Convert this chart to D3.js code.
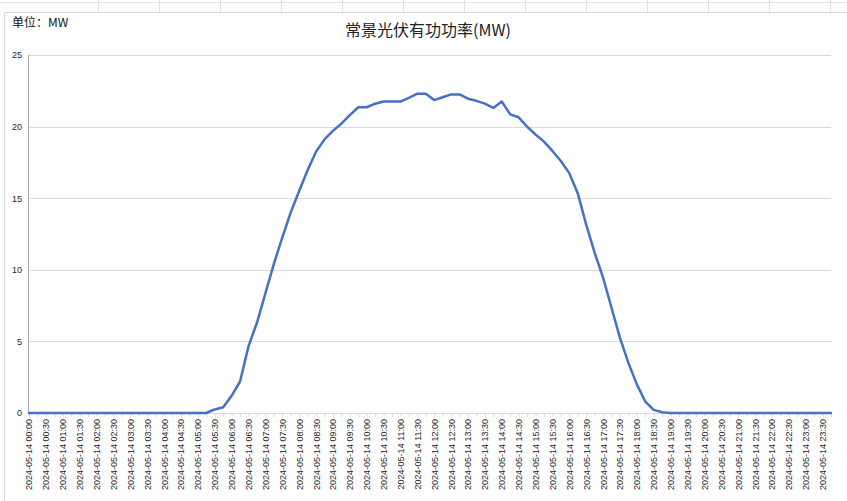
<!DOCTYPE html>
<html>
<head>
<meta charset="utf-8">
<script src="https://cdn.jsdelivr.net/npm/d3@7"></script>
<style>
  html, body { margin: 0; padding: 0; background: #fff; }
  svg { display: block; }
</style>
</head>
<body>
<svg id="chart" width="847" height="501"></svg>
<script>
// ---- data ----
const chartTitle = "常景光伏有功功率(MW)";
const unitLabel = "单位：MW";
const datePrefix = "2024-05-14";
const times = [
  "00:00","00:15","00:30","00:45","01:00","01:15","01:30","01:45",
  "02:00","02:15","02:30","02:45","03:00","03:15","03:30","03:45",
  "04:00","04:15","04:30","04:45","05:00","05:15","05:30","05:45",
  "06:00","06:15","06:30","06:45","07:00","07:15","07:30","07:45",
  "08:00","08:15","08:30","08:45","09:00","09:15","09:30","09:45",
  "10:00","10:15","10:30","10:45","11:00","11:15","11:30","11:45",
  "12:00","12:15","12:30","12:45","13:00","13:15","13:30","13:45",
  "14:00","14:15","14:30","14:45","15:00","15:15","15:30","15:45",
  "16:00","16:15","16:30","16:45","17:00","17:15","17:30","17:45",
  "18:00","18:15","18:30","18:45","19:00","19:15","19:30","19:45",
  "20:00","20:15","20:30","20:45","21:00","21:15","21:30","21:45",
  "22:00","22:15","22:30","22:45","23:00","23:15","23:30","23:45"
];
const powerMW = [
  0,0,0,0,0,0,0,0,
  0,0,0,0,0,0,0,0,
  0,0,0,0,0,0,0.25,0.4,
  1.2,2.2,4.65,6.3,8.35,10.4,12.25,14.0,
  15.5,16.95,18.25,19.1,19.7,20.2,20.8,21.35,
  21.35,21.6,21.75,21.75,21.75,22.0,22.3,22.3,
  21.85,22.05,22.25,22.25,21.95,21.8,21.6,21.3,
  21.75,20.85,20.65,20.0,19.45,18.95,18.3,17.6,
  16.75,15.35,13.15,11.2,9.45,7.35,5.25,3.5,
  2.0,0.8,0.22,0.05,0,0,0,0,
  0,0,0,0,0,0,0,0,
  0,0,0,0,0,0,0,0
];
const yTicks = [0, 5, 10, 15, 20, 25];

// ---- drawing ----
const svg = d3.select("#chart");
const W = 847, H = 501;

// spreadsheet background grid
const sheet = svg.append("g");
const colLines = [98,159,220,281,342,403,464,525,586,647,708,769,830];
sheet.selectAll("line.c").data(colLines).join("line")
  .attr("x1", d => d + 0.5).attr("x2", d => d + 0.5)
  .attr("y1", 0).attr("y2", 12)
  .attr("stroke", "#e1e1e1").attr("stroke-width", 1);
sheet.append("line").attr("x1", 0).attr("x2", W).attr("y1", 2.5).attr("y2", 2.5)
  .attr("stroke", "#e1e1e1");

// chart area
svg.append("rect").attr("x", 4.5).attr("y", 12.5).attr("width", W).attr("height", H)
  .attr("fill", "#fff").attr("stroke", "#d9d9d9");

const x = d3.scalePoint().domain(times).range([29, 831]);
const y = d3.scaleLinear().domain([0, 25]).range([413, 55]);

// gridlines
svg.append("g").selectAll("line").data(yTicks.filter(v => v > 0)).join("line")
  .attr("x1", 29).attr("x2", 831)
  .attr("y1", d => Math.round(y(d)) + 0.5).attr("y2", d => Math.round(y(d)) + 0.5)
  .attr("stroke", "#d9d9d9").attr("stroke-width", 1);

// y axis labels
const yAxis = d3.axisLeft(y).tickValues(yTicks).tickSize(0).tickPadding(7);
const gy = svg.append("g").attr("transform", "translate(29,0)").call(yAxis);
gy.select(".domain").remove();
gy.selectAll("text").attr("font-family", "'Liberation Sans', Arial, sans-serif")
  .attr("font-size", 9).attr("fill", "#1f1f1f");

// y axis line
svg.append("line").attr("x1", 28.5).attr("x2", 28.5).attr("y1", 55).attr("y2", 413)
  .attr("stroke", "#a6a6a6").attr("stroke-width", 1);

// x axis
const xAxis = d3.axisBottom(x).tickSize(4).tickPadding(6)
  .tickFormat((d, i) => i % 2 === 0 ? datePrefix + " " + d : "");
const gx = svg.append("g").attr("transform", "translate(0,413)").call(xAxis);
gx.select(".domain").attr("stroke", "#d9d9d9");
gx.selectAll(".tick line").attr("stroke", "#d9d9d9");
gx.selectAll("text")
  .attr("font-family", "'Liberation Sans', Arial, sans-serif")
  .attr("font-size", 9).attr("fill", "#1f1f1f")
  .attr("transform", "rotate(-90)")
  .attr("text-anchor", "end")
  .attr("x", -6).attr("y", 0).attr("dy", "0.33em");

// line
const line = d3.line().x((d, i) => x(times[i])).y(d => y(d));
svg.append("path").datum(powerMW)
  .attr("d", line).attr("fill", "none")
  .attr("stroke", "#4472c4").attr("stroke-width", 2.5)
  .attr("stroke-linejoin", "round").attr("stroke-linecap", "round");

// title
svg.append("text").attr("x", 428).attr("y", 36).attr("text-anchor", "middle")
  .attr("font-family", "'Noto Sans CJK SC', sans-serif").attr("font-size", 16)
  .attr("fill", "#222").text(chartTitle);

// unit label
svg.append("text").attr("x", 12).attr("y", 27)
  .attr("font-family", "'Noto Sans CJK SC', sans-serif").attr("font-size", 12)
  .attr("fill", "#111").text(unitLabel);
</script>
</body>
</html>
